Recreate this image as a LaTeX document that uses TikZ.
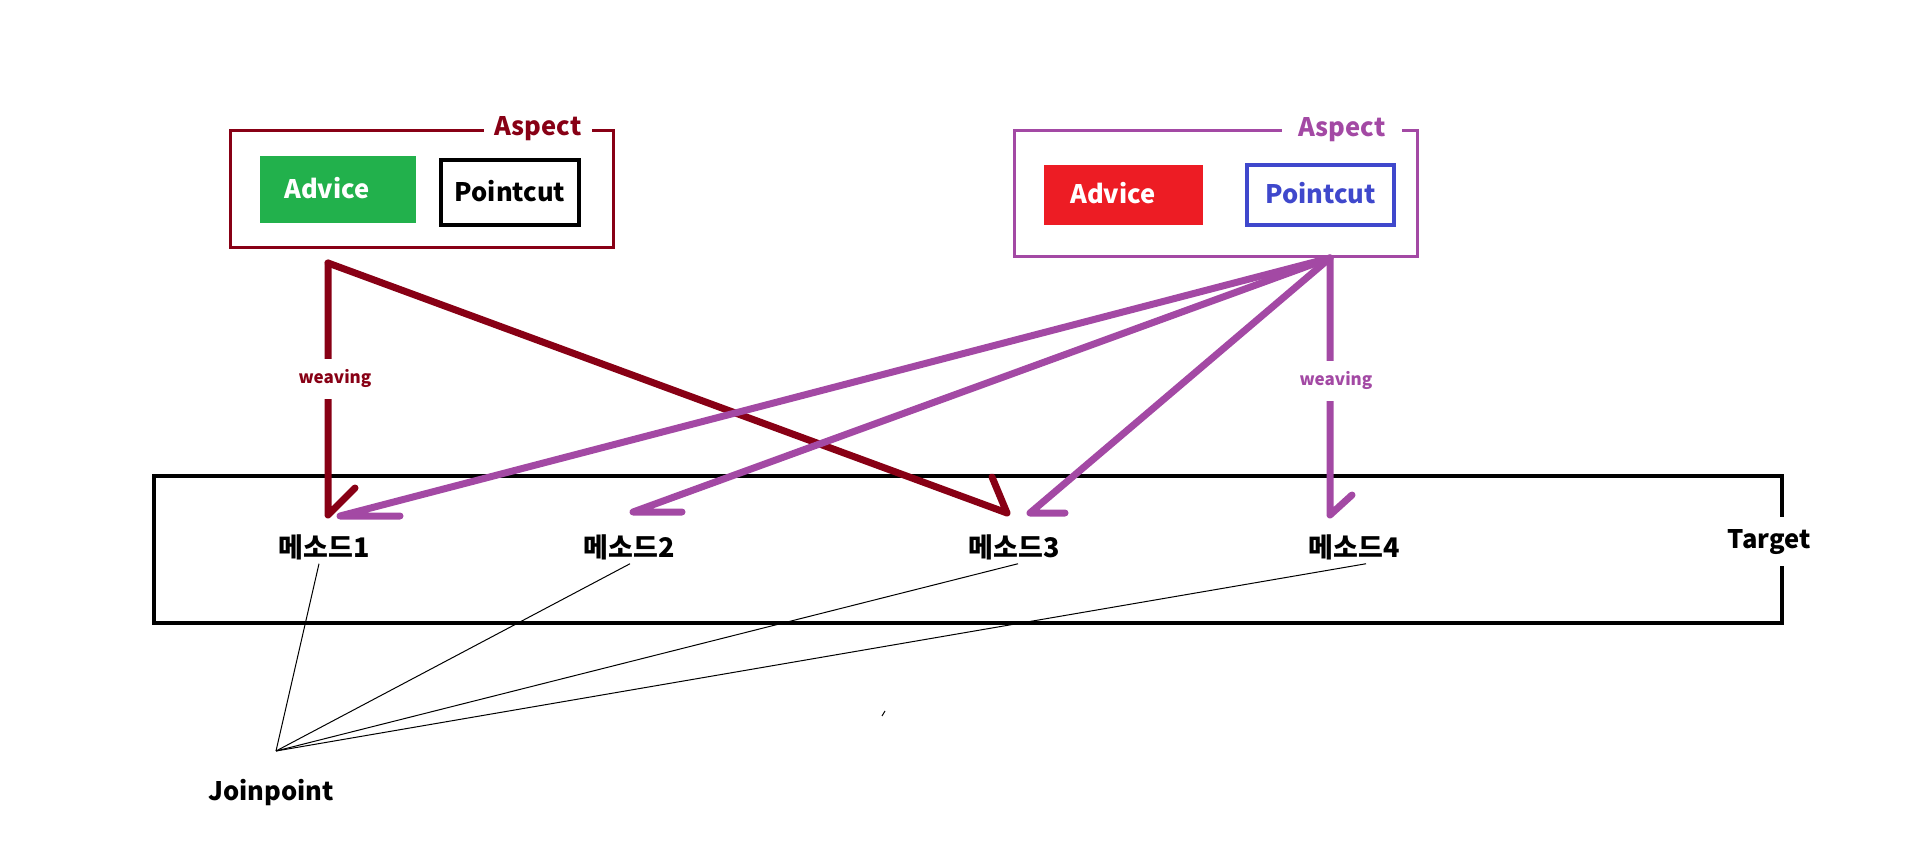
\documentclass[tikz,border=0pt]{standalone}
\usepackage{fontspec}
\setmainfont{Noto Sans CJK KR}
\definecolor{scuro}{HTML}{880015}
\definecolor{viola}{HTML}{A349A4}
\definecolor{verde}{HTML}{22B14C}
\definecolor{rosso}{HTML}{ED1C24}
\definecolor{blu}{HTML}{3F48CC}
\tikzset{
  testo/.style={font=\bfseries\fontsize{25.5}{25.5}\selectfont, inner sep=0pt},
  cornice/.style={draw=#1, line width=3pt, inner sep=0pt},
  scatola/.style={testo, line width=4pt, text height=18pt, text depth=0pt},
  titolo/.style={testo, fill=white, anchor=base, inner ysep=4pt},
  metodo/.style={testo, font=\bfseries\fontsize{27}{27}\selectfont, anchor=base, inner sep=4pt},
  piccolo/.style={font=\bfseries\fontsize{17}{17}\selectfont, fill=white, anchor=base, inner xsep=2pt, inner ysep=11pt},
  tratto/.style={draw=#1, line width=7pt, line cap=round, line join=round}
}
\begin{document}
\begin{tikzpicture}[x=1pt,y=-1pt]
  \useasboundingbox (0,0) rectangle (1906,858);

  %%%%%%%%%% Riquadri %%%%%%%%%%
  \node[cornice=scuro, minimum width=383pt, minimum height=117pt] (asp1) at (421.5,189.5) {};
  \node[cornice=viola, minimum width=403pt, minimum height=126pt] (asp2) at (1215.5,194) {};
  \node[scatola, fill=verde, text=white, minimum width=156pt, minimum height=67pt] (adv1) at (338,189.5) {Advice\hspace*{22pt}};
  \node[scatola, draw=black, minimum width=138pt, minimum height=65pt] (pc1) at (510,192.5) {Pointcut};
  \node[scatola, fill=rosso, text=white, minimum width=159pt, minimum height=60pt] (adv2) at (1123.5,195) {Advice\hspace*{21pt}};
  \node[scatola, draw=blu, text=blu, minimum width=147pt, minimum height=60pt] (pc2) at (1320.5,195) {Pointcut};
  \node[draw=black, line width=4.5pt, minimum width=1628pt, minimum height=147pt] (tgt) at (968,549.5) {};

  %%%%%%%%%% Metodi %%%%%%%%%%
  \foreach \n/\x in {1/324,2/629,3/1014,4/1354}
    \node[metodo] (m\n) at (\x,557) {메소드\n};

  %%%%%%%%% Collegamenti %%%%%%%%%
  \coordinate (rs) at (328,263);
  \coordinate (ps) at (1330,258);
  \coordinate (t1a) at (328,515);
  \coordinate (t3a) at (1007,513);
  \coordinate (t1b) at (340,516);
  \coordinate (t2b) at (633,512);
  \coordinate (t3b) at (1030,513);
  \coordinate (t4b) at (1330,515);
  \draw[tratto=scuro] (rs) -- (t1a) -- ++(27,-27);
  \draw[tratto=scuro] (rs) -- (t3a) -- ++(-15,-36);
  \draw[tratto=viola] (ps) -- (t1b) -- ++(60,0);
  \draw[tratto=viola] (ps) -- (t2b) -- ++(49,0);
  \draw[tratto=viola] (ps) -- (t3b) -- ++(35,0);
  \draw[tratto=viola] (ps) -- (t4b) -- ++(22,-20);

  %%%%%%%%%% Etichette %%%%%%%%%%
  \node[titolo, text=scuro, inner xsep=11pt] (asp1t) at (538,136) {Aspect};
  \node[titolo, text=viola, inner xsep=17pt] (asp2t) at (1342,137) {Aspect};
  \node[titolo, text=black, inner xsep=2pt, inner ysep=12pt] (tgtt) at (1769,548) {Target};
  \node[piccolo, text=scuro] (wv1) at (335,384) {weaving};
  \node[piccolo, text=viola] (wv2) at (1336,386) {weaving};

  %%%%%%%%%% Joinpoint %%%%%%%%%%
  \coordinate (jc) at (276,751);
  \node[testo, anchor=base] (jp) at (271,800) {Joinpoint};
  \foreach \n/\s in {1/-5,2/1,3/4,4/12}
    \draw[line width=1pt] (jc) -- ([xshift=\s pt]m\n.south);
  \draw[line width=1pt] (882,716) -- (885,711);
\end{tikzpicture}
\end{document}
